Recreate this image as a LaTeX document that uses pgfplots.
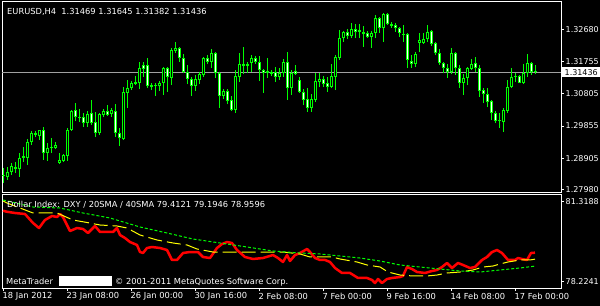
\documentclass[border=0pt]{standalone}
\usepackage{pgfplots}
\pgfplotsset{compat=1.18}
\usepackage{pgfplotstable}
\usepackage{fontspec}
\setmainfont{DejaVu Sans}
\definecolor{mtgreen}{RGB}{0,255,0}
\definecolor{mtred}{RGB}{255,0,0}
\definecolor{mtyellow}{RGB}{255,255,0}
\definecolor{mtgray}{RGB}{160,160,160}
\newcommand\mtfont{\fontsize{8bp}{9bp}\selectfont}
\newcommand\mtfontb{\fontsize{8.3bp}{9bp}\selectfont}

\pgfplotstableread{
i o h l c
0 1.2839 1.2862 1.2818 1.2842
1 1.2836 1.2865 1.2827 1.2850
2 1.2850 1.2877 1.2842 1.2868
3 1.2865 1.2880 1.2847 1.2859
4 1.2859 1.2906 1.2836 1.2892
5 1.2897 1.2924 1.2880 1.2892
6 1.2892 1.2947 1.2871 1.2939
7 1.2939 1.2971 1.2930 1.2965
8 1.2959 1.2971 1.2953 1.2965
9 1.2956 1.2974 1.2944 1.2974
10 1.2974 1.2983 1.2886 1.2906
11 1.2906 1.2936 1.2883 1.2921
12 1.2924 1.2950 1.2906 1.2921
13 1.2921 1.2939 1.2918 1.2930
14 1.2877 1.2906 1.2874 1.2886
15 1.2883 1.2903 1.2880 1.2900
16 1.2897 1.2980 1.2883 1.2974
17 1.2974 1.3033 1.2971 1.3030
18 1.3033 1.3053 1.3000 1.3012
19 1.3012 1.3036 1.2997 1.3009
20 1.3012 1.3024 1.2983 1.2994
21 1.2994 1.3030 1.2983 1.3021
22 1.3024 1.3062 1.2989 1.2994
23 1.2997 1.3027 1.2953 1.2965
24 1.2965 1.3024 1.2959 1.3021
25 1.3018 1.3036 1.3012 1.3030
26 1.3030 1.3047 1.3015 1.3018
27 1.3021 1.3039 1.3012 1.3033
28 1.3030 1.3050 1.2953 1.2965
29 1.2965 1.2980 1.2927 1.2950
30 1.2947 1.3100 1.2944 1.3086
31 1.3083 1.3121 1.3039 1.3097
32 1.3097 1.3118 1.3091 1.3112
33 1.3109 1.3133 1.3106 1.3115
34 1.3112 1.3174 1.3094 1.3156
35 1.3165 1.3174 1.3130 1.3153
36 1.3165 1.3186 1.3097 1.3103
37 1.3106 1.3112 1.3091 1.3100
38 1.3106 1.3112 1.3074 1.3103
39 1.3103 1.3118 1.3089 1.3112
40 1.3112 1.3159 1.3077 1.3156
41 1.3156 1.3159 1.3086 1.3130
42 1.3127 1.3215 1.3106 1.3209
43 1.3206 1.3233 1.3200 1.3215
44 1.3215 1.3218 1.3174 1.3186
45 1.3186 1.3197 1.3141 1.3144
46 1.3144 1.3165 1.3109 1.3124
47 1.3124 1.3130 1.3074 1.3103
48 1.3103 1.3136 1.3089 1.3124
49 1.3121 1.3144 1.3109 1.3138
50 1.3136 1.3188 1.3130 1.3186
51 1.3186 1.3194 1.3168 1.3174
52 1.3174 1.3212 1.3156 1.3200
53 1.3200 1.3203 1.3127 1.3141
54 1.3141 1.3144 1.3039 1.3074
55 1.3074 1.3094 1.3065 1.3089
56 1.3089 1.3094 1.3050 1.3059
57 1.3062 1.3074 1.3030 1.3033
58 1.3033 1.3150 1.3024 1.3133
59 1.3130 1.3200 1.3115 1.3168
60 1.3168 1.3218 1.3138 1.3162
61 1.3168 1.3174 1.3141 1.3162
62 1.3171 1.3194 1.3144 1.3186
63 1.3186 1.3191 1.3168 1.3174
64 1.3174 1.3191 1.3118 1.3150
65 1.3150 1.3153 1.3083 1.3141
66 1.3147 1.3186 1.3127 1.3141
67 1.3144 1.3150 1.3133 1.3138
68 1.3144 1.3159 1.3115 1.3130
69 1.3130 1.3156 1.3121 1.3141
70 1.3141 1.3183 1.3130 1.3174
71 1.3174 1.3203 1.3062 1.3097
72 1.3097 1.3150 1.3077 1.3141
73 1.3147 1.3165 1.3136 1.3138
74 1.3121 1.3130 1.3083 1.3086
75 1.3086 1.3094 1.3047 1.3062
76 1.3065 1.3097 1.3027 1.3039
77 1.3039 1.3080 1.3027 1.3065
78 1.3062 1.3141 1.3056 1.3118
79 1.3115 1.3141 1.3100 1.3124
80 1.3124 1.3133 1.3100 1.3109
81 1.3112 1.3130 1.3086 1.3100
82 1.3100 1.3168 1.3097 1.3133
83 1.3130 1.3194 1.3091 1.3188
84 1.3186 1.3268 1.3180 1.3244
85 1.3244 1.3265 1.3233 1.3262
86 1.3262 1.3271 1.3241 1.3250
87 1.3250 1.3288 1.3244 1.3271
88 1.3271 1.3285 1.3244 1.3262
89 1.3268 1.3285 1.3244 1.3262
90 1.3262 1.3280 1.3218 1.3256
91 1.3259 1.3265 1.3244 1.3247
92 1.3247 1.3265 1.3215 1.3259
93 1.3259 1.3312 1.3244 1.3303
94 1.3303 1.3306 1.3259 1.3274
95 1.3274 1.3318 1.3233 1.3315
96 1.3315 1.3318 1.3283 1.3285
97 1.3285 1.3291 1.3274 1.3280
98 1.3283 1.3288 1.3262 1.3274
99 1.3274 1.3277 1.3247 1.3259
100 1.3256 1.3283 1.3233 1.3253
101 1.3256 1.3259 1.3156 1.3180
102 1.3177 1.3194 1.3156 1.3168
103 1.3168 1.3203 1.3159 1.3197
104 1.3230 1.3259 1.3203 1.3238
105 1.3230 1.3259 1.3227 1.3241
106 1.3241 1.3283 1.3233 1.3262
107 1.3265 1.3268 1.3221 1.3227
108 1.3230 1.3233 1.3194 1.3200
109 1.3200 1.3212 1.3165 1.3171
110 1.3171 1.3174 1.3141 1.3156
111 1.3156 1.3168 1.3127 1.3144
112 1.3144 1.3215 1.3138 1.3200
113 1.3200 1.3203 1.3136 1.3156
114 1.3156 1.3165 1.3097 1.3112
115 1.3112 1.3138 1.3077 1.3127
116 1.3127 1.3159 1.3106 1.3156
117 1.3153 1.3183 1.3150 1.3168
118 1.3171 1.3188 1.3144 1.3156
119 1.3156 1.3165 1.3071 1.3089
120 1.3091 1.3097 1.3053 1.3080
121 1.3080 1.3097 1.3041 1.3056
122 1.3059 1.3062 1.3003 1.3024
123 1.3024 1.3030 1.2994 1.3000
124 1.3003 1.3024 1.2980 1.3000
125 1.2997 1.3039 1.2968 1.3033
126 1.3030 1.3121 1.3024 1.3100
127 1.3100 1.3156 1.3097 1.3130
128 1.3130 1.3141 1.3115 1.3133
129 1.3133 1.3136 1.3112 1.3112
130 1.3112 1.3168 1.3109 1.3141
131 1.3141 1.3197 1.3130 1.3171
132 1.3171 1.3174 1.3136 1.3144
133 1.31469 1.31645 1.31382 1.31436
}\candles

\begin{document}
\begin{tikzpicture}
\fill[black] (0,0) rectangle (600bp,306bp);

% ---------------- main price panel ----------------
\begin{axis}[
  at={(2bp,113bp)}, anchor=south west, scale only axis,
  width=559bp, height=191bp,
  xmin=-0.25, xmax=139.5, ymin=1.278858, ymax=1.335012,
  axis line style={draw=white, line width=1bp},
  xtick=\empty,
  ytick={1.2798,1.28905,1.29855,1.30805,1.31755,1.3268},
  yticklabels={1.27980,1.28905,1.29855,1.30805,1.31755,1.32680},
  ytick pos=right, yticklabel pos=right,
  tick align=outside, major tick length=3bp,
  tick style={draw=white, line width=1bp},
  yticklabel style={font=\mtfont, text=white, anchor=west, inner sep=0pt, xshift=1.5bp},
  clip=true,
]
\addplot[mtgray, line width=1bp, forget plot] coordinates {(-0.25,1.31436) (139.5,1.31436)};
% wicks
\addplot[draw=none, mark=none, forget plot,
  error bars/.cd, y dir=plus, y explicit, error mark=none,
  error bar style={draw=mtgreen, line width=1bp}]
  table[x=i, y=l, y error expr=\thisrow{h}-\thisrow{l}] {\candles};
% body outlines
\addplot[draw=none, mark=none, forget plot,
  error bars/.cd, y dir=plus, y explicit, error mark=none,
  error bar style={draw=mtgreen, line width=3bp}]
  table[x=i, y expr={min(\thisrow{o},\thisrow{c})}, y error expr={abs(\thisrow{c}-\thisrow{o})}] {\candles};
% body interiors (black for all larger bodies)
\addplot[draw=none, mark=none, forget plot,
  restrict expr to domain={abs(\thisrow{c}-\thisrow{o})}{0.0007:1},
  error bars/.cd, y dir=plus, y explicit, error mark=none,
  error bar style={draw=black, line width=1bp, shorten <=1bp, shorten >=1bp}]
  table[x=i, y expr={min(\thisrow{o},\thisrow{c})}, y error expr={abs(\thisrow{c}-\thisrow{o})}] {\candles};
% white interiors for bearish bodies
\addplot[draw=none, mark=none, forget plot,
  restrict expr to domain={\thisrow{o}-\thisrow{c}}{0.0007:1},
  error bars/.cd, y dir=plus, y explicit, error mark=none,
  error bar style={draw=white, line width=1bp, shorten <=1bp, shorten >=1bp}]
  table[x=i, y expr={min(\thisrow{o},\thisrow{c})}, y error expr={abs(\thisrow{c}-\thisrow{o})}] {\candles};
\end{axis}

% ---------------- indicator panel ----------------
\begin{axis}[
  at={(2bp,18bp)}, anchor=south west, scale only axis,
  width=559bp, height=93bp,
  xmin=-0.25, xmax=139.5, ymin=78.2241, ymax=81.3524,
  axis line style={draw=white, line width=1bp},
  xtick={0,16,32,48,64,80,96,112,128},
  xticklabels={18 Jan 2012,23 Jan 08:00,26 Jan 00:00,30 Jan 16:00,2 Feb 08:00,7 Feb 00:00,9 Feb 16:00,14 Feb 08:00,17 Feb 00:00},
  xtick pos=bottom,
  ytick={78.4427,81.1338},
  yticklabels={78.2241,81.3188},
  ytick pos=right, yticklabel pos=right,
  tick align=outside, major tick length=3bp,
  tick style={draw=white, line width=1bp},
  xticklabel style={font=\mtfontb, text=white, anchor=north west, inner sep=0pt, xshift=-0.5bp, yshift=-1.5bp},
  yticklabel style={font=\mtfont, text=white, anchor=west, inner sep=0pt, xshift=1.5bp},
  clip=true,
]
\addplot[mtred, line width=2.5bp, line join=round] coordinates {
(0,80.824) (0.9,80.791) (3,80.747) (5.5,80.713) (7.5,80.411) (9,80.242) (10.5,80.512) (12.25,80.646) (13.5,80.612) (14.25,80.713) (15,80.612) (16.75,80.141) (18.5,80.242) (20,80.209) (21.25,80.074) (23,80.310) (24.25,80.108) (26,80.108) (27.5,80.108) (28.5,80.242) (29.25,80.007) (30.5,79.906) (31.75,79.771) (33.5,79.671) (34.25,79.435) (35,79.401) (36,79.570) (37.25,79.603) (39.25,79.570) (41,79.502) (42.25,79.166) (43.5,79.166) (45,79.401) (46.75,79.435) (48.75,79.435) (50,79.267) (51.75,79.233) (53.5,79.570) (54.75,79.704) (56,79.771) (57.25,79.738) (58.5,79.502) (60.5,79.267) (62.5,79.200) (65,79.233) (67.5,79.334) (68.75,79.233) (70,79.099) (71,79.334) (71.75,79.132) (73,79.334) (74.25,79.401) (76,79.536) (76.75,79.435) (78,79.233) (79.25,79.166) (80.5,79.166) (81.75,79.099) (83,78.897) (84.75,78.729) (86.75,78.729) (88.75,78.561) (91,78.561) (92.25,78.494) (93,78.392) (93.75,78.527) (94.75,78.392) (96,78.527) (97.25,78.561) (99.25,78.594) (100,78.628) (101,78.930) (102.25,78.863) (103.5,78.762) (105.5,78.729) (107.25,78.796) (108.5,78.830) (109.75,78.930) (111,79.065) (112.25,78.897) (113.75,79.065) (115,78.998) (116.75,78.897) (118,78.930) (119.75,79.166) (121,79.267) (122.25,79.435) (123.5,79.502) (124.75,79.401) (126.25,79.166) (128,79.166) (128.75,79.233) (129.75,79.200) (131,79.166) (132,79.401) (133,79.412)
};
\addplot[mtyellow, line width=1bp, dash pattern=on 14bp off 5bp] coordinates {
(0,81.151) (1,81.083) (4.25,80.915) (7.5,80.747) (10,80.747) (13.5,80.747) (17.5,80.511) (21.75,80.410) (24.25,80.343) (28.5,80.310) (31,80.242) (34.25,80.007) (38.5,79.839) (42.5,79.738) (46,79.671) (48.5,79.536) (52.5,79.435) (56.75,79.435) (61,79.435) (66,79.435) (70,79.435) (74.25,79.368) (76.75,79.267) (79.25,79.267) (82.25,79.267) (84.25,79.200) (88.5,79.099) (91,78.998) (94.25,78.931) (96.25,78.762) (99.25,78.661) (102.5,78.628) (106,78.628) (108.5,78.661) (111,78.729) (114.25,78.762) (117.5,78.830) (120,78.930) (122.5,78.964) (124.25,79.031) (126.25,79.099) (129.25,79.166) (131.75,79.166) (133,79.195)
};
\addplot[mtgreen, line width=1bp, dash pattern=on 3bp off 2bp] coordinates {
(0,81.184) (7.5,80.949) (14.25,80.915) (20,80.747) (26.75,80.579) (34.25,80.276) (41,80.074) (47.5,79.872) (54.25,79.738) (61,79.603) (67.5,79.469) (74.25,79.401) (79.25,79.368) (84.25,79.301) (89.25,79.233) (94.25,79.132) (99.25,78.998) (104.25,78.930) (109.25,78.863) (114.25,78.796) (119.25,78.762) (124.25,78.830) (129.25,78.897) (133,78.960)
};
\end{axis}

% ---------------- texts ----------------
\node[anchor=base west, inner sep=0pt, text=white, font=\mtfontb] at (7bp,291.5bp) {EURUSD,H4\ \ 1.31469 1.31645 1.31382 1.31436};
\node[anchor=base west, inner sep=0pt, text=white, font=\mtfontb] at (7bp,98bp) {Dollar Index: DXY / 20SMA / 40SMA 79.4121 79.1946 78.9596};
\node[anchor=base west, inner sep=0pt, text=white, font=\mtfontb] at (6bp,21.5bp) {MetaTrader};
\fill[white] (59bp,20bp) rectangle (112bp,30bp);
\node[anchor=base west, inner sep=0pt, text=white, font=\mtfontb] at (115bp,21.5bp) {© 2001-2011 MetaQuotes Software Corp.};
\node[anchor=west, fill=white, text=black, font=\mtfont, inner sep=0pt, minimum width=38bp, minimum height=10bp] at (562bp,233.5bp) {1.31436};

\pgfresetboundingbox
\path (0,0) rectangle (600bp,306bp);
\end{tikzpicture}
\end{document}
